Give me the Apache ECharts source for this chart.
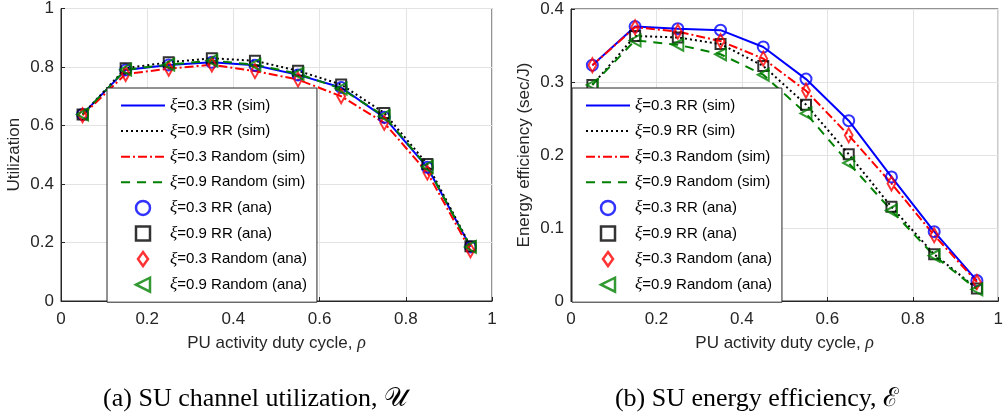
<!DOCTYPE html>
<html>
<head>
<meta charset="utf-8">
<script src="https://cdn.jsdelivr.net/npm/echarts@6/dist/echarts.min.js"></script>
<style>
  html, body { margin: 0; padding: 0; background: #fff; }
  #chart { width: 1006px; height: 419px; }
</style>
</head>
<body>
<div id="chart"></div>
<script>
// x values (PU activity duty cycle)
const rho = [0.05, 0.15, 0.25, 0.35, 0.45, 0.55, 0.65, 0.75, 0.85, 0.95]

// (a) utilization
const utilRR03 = [0.638, 0.790, 0.807, 0.816, 0.806, 0.773, 0.730, 0.628, 0.457, 0.185]
const utilRR09 = [0.638, 0.796, 0.816, 0.830, 0.821, 0.787, 0.740, 0.643, 0.468, 0.187]
const utilRand03 = [0.635, 0.776, 0.794, 0.808, 0.786, 0.757, 0.700, 0.609, 0.439, 0.173]
const utilRand09 = [0.638, 0.791, 0.808, 0.822, 0.808, 0.777, 0.726, 0.632, 0.459, 0.185]

// (b) energy efficiency (sec/J)
const eeRR03 = [0.323, 0.376, 0.373, 0.371, 0.348, 0.304, 0.247, 0.170, 0.095, 0.028]
const eeRR09 = [0.296, 0.363, 0.361, 0.352, 0.322, 0.269, 0.201, 0.129, 0.064, 0.017]
const eeRand03 = [0.323, 0.375, 0.369, 0.356, 0.332, 0.288, 0.227, 0.161, 0.090, 0.026]
const eeRand09 = [0.296, 0.357, 0.351, 0.338, 0.310, 0.257, 0.189, 0.124, 0.062, 0.016]

const xTicks = [0, 0.2, 0.4, 0.6, 0.8, 1]

const names = [
  'ξ=0.3 RR (sim)', 'ξ=0.9 RR (sim)', 'ξ=0.3 Random (sim)', 'ξ=0.9 Random (sim)',
  'ξ=0.3 RR (ana)', 'ξ=0.9 RR (ana)', 'ξ=0.3 Random (ana)', 'ξ=0.9 Random (ana)'
]
const colors = ['#0000ff', '#000000', '#ff0000', '#008000']
const dashes = ['solid', [2, 3], [9, 3, 2, 3], [9, 7]]
//markers: circle, square, diamond, left triangle
const symbols = [
  'circle',
  'path://M0,0 L10,0 L10,10 L0,10 Z',
  'path://M5,0 L10,7 L5,14 L0,7 Z',
  'path://M0,5 L10,0 L10,10 Z'
]
const symSizes = [11, 10, [11, 14], [11, 12]]

const pairs = arr => arr.map((v, i) => [rho[i], v])

//build the 8 series of one panel
const makeSeries = (idx, dataSets) => {
  const out = []
  dataSets.forEach((d, k) => {
    out.push({
      name: names[k], type: 'line', xAxisIndex: idx, yAxisIndex: idx,
      data: pairs(d), symbol: 'none', showSymbol: false, animation: false, z: 2,
      lineStyle: { color: colors[k], width: 2, type: dashes[k] },
      itemStyle: { color: 'rgba(0,0,0,0)', borderWidth: 0 }
    })
  })
  dataSets.forEach((d, k) => {
    out.push({
      name: names[k + 4], type: 'scatter', xAxisIndex: idx, yAxisIndex: idx,
      data: pairs(d), symbol: symbols[k], symbolSize: symSizes[k], symbolKeepAspect: true,
      animation: false, z: 3,
      itemStyle: { color: 'rgba(0,0,0,0)', borderColor: colors[k], borderWidth: 2 }
    })
  })
  return out
}

const axisText = { color: '#262626', fontSize: 17, fontFamily: 'Liberation Sans' }
const nameStyle = {
  color: '#262626', fontSize: 17, fontFamily: 'Liberation Sans',
  rich: { r: { fontFamily: 'Liberation Serif', fontStyle: 'italic', fontSize: 18, color: '#262626' } }
}

const xAxisOf = (idx) => ({
  type: 'value', gridIndex: idx, min: 0, max: 1, interval: 0.2,
  name: 'PU activity duty cycle, {r|ρ}', nameLocation: 'middle', nameGap: 33, nameTextStyle: nameStyle,
  axisLine: { lineStyle: { color: '#262626', width: 1 } },
  axisTick: { inside: true, length: 4, lineStyle: { color: '#262626' } },
  axisLabel: { ...axisText, margin: 10, formatter: v => xTicks.includes(+v.toFixed(1)) ? String(+v.toFixed(1)) : '' },
  splitLine: { show: true, lineStyle: { color: '#e3e3e3', width: 1 } }
})

const yAxisOf = (idx, max, step, title) => ({
  type: 'value', gridIndex: idx, min: 0, max: max, interval: step,
  name: title, nameLocation: 'middle', nameGap: 38, nameTextStyle: nameStyle,
  axisLine: { show: true, lineStyle: { color: '#262626', width: 1 } },
  axisTick: { show: true, inside: true, length: 4, lineStyle: { color: '#262626' } },
  axisLabel: { ...axisText, margin: 7, formatter: v => String(+v.toFixed(1)) },
  splitLine: { show: true, lineStyle: { color: '#e3e3e3', width: 1 } }
})

const legendOf = (left, top) => ({
  orient: 'vertical', left: left, top: top,
  data: names, itemWidth: 44, itemHeight: 14, itemGap: 8.6,
  padding: [9, 10, 9, 13],
  symbolKeepAspect: true,
  itemStyle: { borderWidth: 2.5 },
  backgroundColor: '#fff', borderColor: '#262626', borderWidth: 1, borderRadius: 0,
  formatter: n => '{x|ξ}' + n.slice(1),
  textStyle: {
    color: '#000', fontSize: 15, fontFamily: 'Liberation Sans', lineHeight: 16,
    rich: { x: { fontFamily: 'Liberation Serif', fontStyle: 'italic', fontSize: 17, lineHeight: 16, color: '#000' } }
  },
  selectedMode: false, z: 10
})

const chart = echarts.init(document.getElementById('chart'), null, { renderer: 'canvas' })
const option = {
  backgroundColor: '#fff',
  animation: false,
  grid: [
    { left: 61, top: 7, width: 431, height: 294, show: true, borderColor: '#262626', borderWidth: 1 },
    { left: 571, top: 9, width: 431, height: 292, show: true, borderColor: '#262626', borderWidth: 1 }
  ],
  xAxis: [xAxisOf(0), xAxisOf(1)],
  yAxis: [yAxisOf(0, 1, 0.2, 'Utilization'), yAxisOf(1, 0.4, 0.1, 'Energy efficiency (sec/J)')],
  legend: [legendOf(107, 88), legendOf(572, 88)],
  series: [
    ...makeSeries(0, [utilRR03, utilRR09, utilRand03, utilRand09]),
    ...makeSeries(1, [eeRR03, eeRR09, eeRand03, eeRand09])
  ],
  graphic: [
    { type: 'text', x: 255, y: 399, style: { text: '(a) SU channel utilization, 𝒰', font: '26px "Liberation Serif"', fill: '#000', align: 'center', verticalAlign: 'middle' } },
    { type: 'text', x: 757, y: 399, style: { text: '(b) SU energy efficiency, ℰ', font: '26px "Liberation Serif"', fill: '#000', align: 'center', verticalAlign: 'middle' } }
  ]
}
option && chart.setOption(option)
</script>
</body>
</html>
